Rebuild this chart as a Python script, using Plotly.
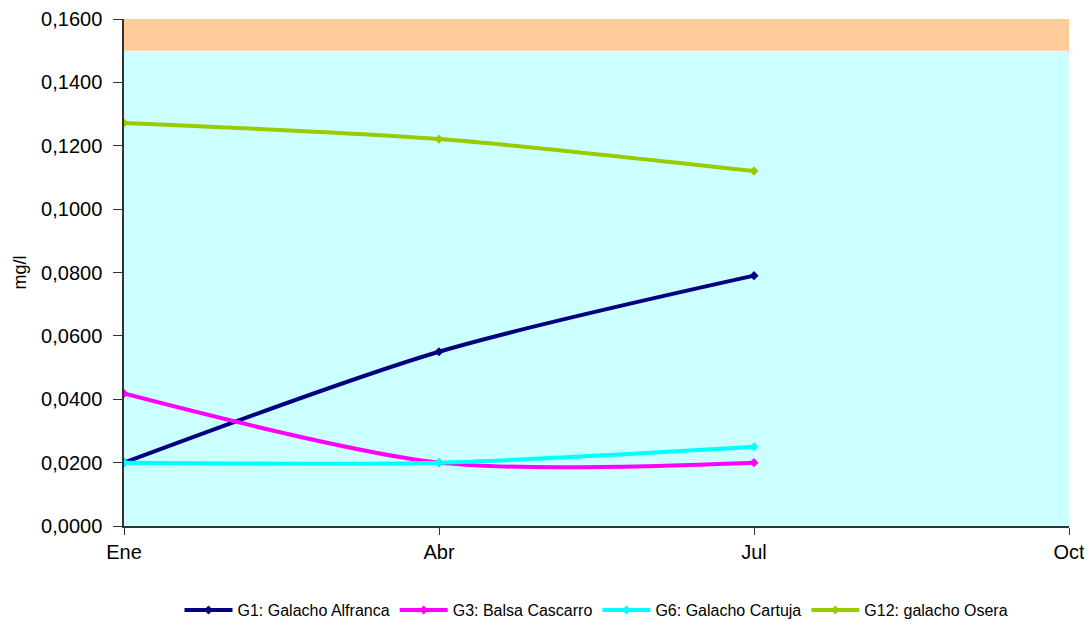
import plotly.graph_objects as go

months = ["Ene", "Abr", "Jul", "Oct"]
sample_months = ["Ene", "Abr", "Jul"]

g1_alfranca = [0.0200, 0.0550, 0.0790]
g3_cascarro = [0.0418, 0.0200, 0.0200]
g6_cartuja = [0.0200, 0.0200, 0.0250]
g12_osera = [0.1272, 0.1221, 0.1120]

band_low = [0.0, 0.15]
band_high = [0.15, 0.16]

series = [
    ("G1: Galacho Alfranca", g1_alfranca, "#000080"),
    ("G3: Balsa Cascarro", g3_cascarro, "#FF00FF"),
    ("G6: Galacho Cartuja", g6_cartuja, "#00FFFF"),
    ("G12: galacho Osera", g12_osera, "#99CC00"),
]

fig = go.Figure()
for name, vals, color in series:
    fig.add_trace(go.Scatter(
        x=sample_months, y=vals, name=name, mode="lines+markers",
        line=dict(color=color, width=4, shape="spline", smoothing=0.8),
        marker=dict(symbol="diamond", size=7, color=color),
    ))

fig.add_shape(type="rect", xref="x domain", yref="y", x0=0, x1=1,
              y0=band_low[0], y1=band_low[1], fillcolor="#CCFFFF",
              line=dict(width=0), layer="below")
fig.add_shape(type="rect", xref="x domain", yref="y", x0=0, x1=1,
              y0=band_high[0], y1=band_high[1], fillcolor="#FFCC99",
              line=dict(width=0), layer="below")

# page body has an 8px default margin, so the figure is sized to fit inside it
fig.update_layout(
    width=1076, height=612,
    margin=dict(l=116, r=15, t=11, b=94, autoexpand=False),
    paper_bgcolor="white", plot_bgcolor="white",
    separators=", ",
    font=dict(family="Liberation Sans, Arial, sans-serif", color="#000000"),
    showlegend=True,
    legend=dict(orientation="h", x=0.5, xanchor="center", y=-0.166,
                yanchor="middle", font=dict(size=16), itemwidth=48,
                bgcolor="rgba(0,0,0,0)"),
    xaxis=dict(type="category", categoryorder="array", categoryarray=months,
               range=[0, 3], showgrid=False, zeroline=False, automargin=False,
               showline=True, linecolor="#333333", linewidth=1.5,
               ticks="outside", ticklen=7, tickcolor="#333333",
               tickfont=dict(size=20)),
    yaxis=dict(range=[0, 0.16], dtick=0.02, tickformat=".4f",
               showgrid=False, zeroline=False, automargin=False,
               showline=True, linecolor="#333333", linewidth=1.5,
               ticks="outside", ticklen=9, tickcolor="#333333",
               ticklabelstandoff=7,
               tickfont=dict(size=20),
               title=dict(text="mg/l", font=dict(size=18), standoff=10)),
)

fig.write_html("out.html")
